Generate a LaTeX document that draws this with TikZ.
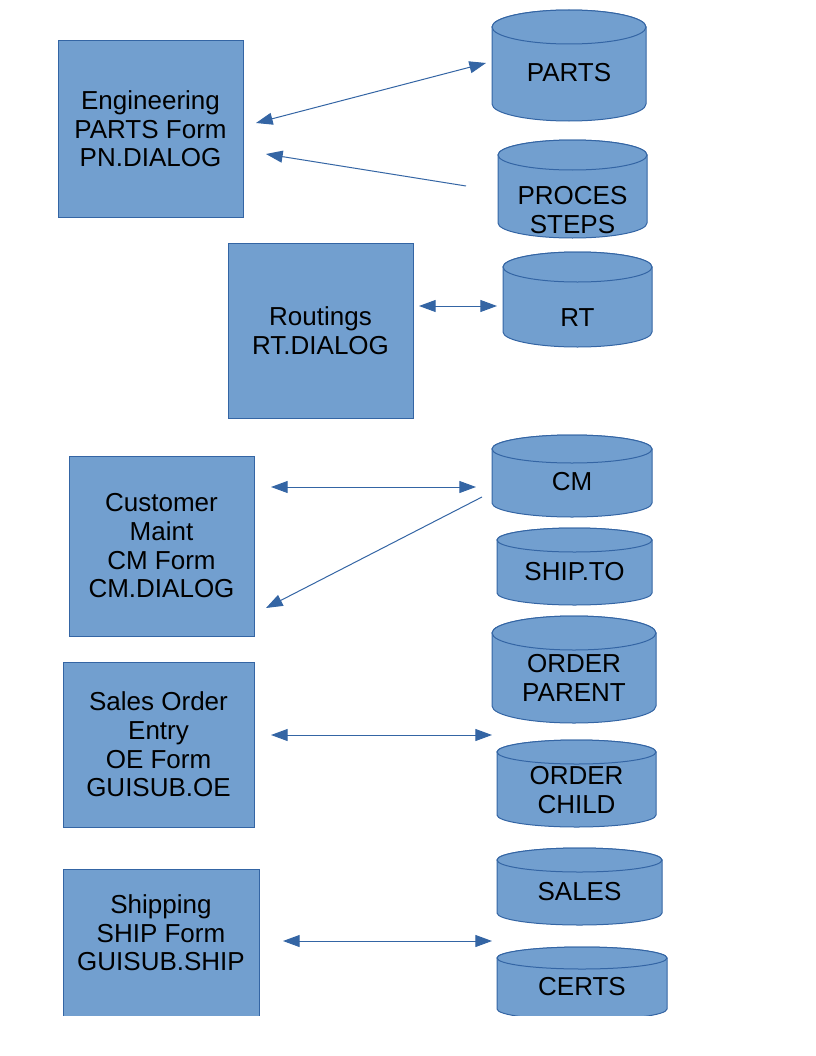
\documentclass[tikz,border=0pt]{standalone}
\usepackage{fontspec}
\setmainfont{Liberation Sans}
\usetikzlibrary{arrows.meta}
\definecolor{lo}{HTML}{3465A4}
\definecolor{lofill}{HTML}{729FCF}
\tikzset{
  txt/.style={font=\fontsize{19.5pt}{21.5pt}\selectfont, align=center, inner sep=0pt, text=black},
  box/.style={txt, draw=lo, fill=lofill, line width=0.75pt},
  dbst/.style={draw=lo, fill=lofill, line width=0.75pt},
  conn/.style={draw=lo, line width=0.75pt},
  >={Triangle[length=12.5pt,width=9pt]}
}
\newcommand{\dbcyl}[8]{%
  \pgfmathsetmacro{\cylcx}{(#2+#3)/2}%
  \pgfmathsetmacro{\cylrx}{(#3-#2)/2}%
  \filldraw[dbst] (#2,#4+#6) -- (#2,#5-#6) arc[start angle=180,end angle=0,x radius=\cylrx,y radius=#6]
     -- (#3,#4+#6) arc[start angle=0,end angle=-180,x radius=\cylrx,y radius=#6] -- cycle;
  \draw[dbst] (\cylcx,#4+#6) ellipse[x radius=\cylrx,y radius=#6];
  \node[txt] (#1) at (\cylcx,#7) {#8};%
}
\begin{document}
\begin{tikzpicture}[x=0.75pt,y=-0.75pt]
\useasboundingbox (0,0) rectangle (816,1056);
\begin{scope}
\clip (0,0) rectangle (816,1015);
% boxes
\node[box, minimum width=138.75pt, minimum height=132pt] (eng) at (150.5,129) {Engineering\\PARTS Form\\PN.DIALOG};
\node[box, minimum width=138.75pt, minimum height=131.25pt] (rtd) at (320.5,330.5) {Routings\\RT.DIALOG};
\node[box, minimum width=138.75pt, minimum height=135pt] (cmd) at (161.5,546) {Customer\\Maint\\CM Form\\CM.DIALOG};
\node[box, minimum width=143.25pt, minimum height=123.75pt] (oed) at (158.5,744.5) {Sales Order\\Entry\\OE Form\\GUISUB.OE};
\node[box, minimum width=147pt, minimum height=121.5pt] (shipbox) at (161,950) {};
\node[txt] (shipd) at (161,933) {Shipping\\SHIP Form\\GUISUB.SHIP};
% databases
\dbcyl{parts}{492}{646}{10}{121}{17}{73}{PARTS}
\dbcyl{proc}{498}{647}{140}{238}{15}{210}{PROCES\\STEPS}
\dbcyl{rt}{503}{652}{252}{347}{15}{318}{RT}
\dbcyl{cm}{492}{652}{435}{517}{14}{482}{CM}
\dbcyl{shipto}{497}{652}{528}{605}{12}{572}{SHIP.TO}
\dbcyl{ordp}{492}{656}{616}{723}{17}{678}{ORDER\\PARENT}
\dbcyl{ordc}{497}{656}{740}{827}{12}{790}{ORDER\\CHILD}
\dbcyl{sales}{497}{662}{848}{925}{12}{892}{SALES}
\dbcyl{certs}{497}{667}{947}{1020}{11}{987}{CERTS}
\end{scope}
% connector end points
\coordinate (a1s) at (256,123); \coordinate (a1e) at (486,63);
\coordinate (a2s) at (466,186); \coordinate (a2e) at (266,154);
\coordinate (a3s) at (419,306); \coordinate (a3e) at (497,306);
\coordinate (a4s) at (271,487); \coordinate (a4e) at (476,487);
\coordinate (a5s) at (482,497); \coordinate (a5e) at (266,608);
\coordinate (a6s) at (271,735); \coordinate (a6e) at (492,735);
\coordinate (a7s) at (283,941); \coordinate (a7e) at (492,941);
\draw[conn,<->] (a1s) -- (a1e);
\draw[conn,->] (a2s) -- (a2e);
\draw[conn,<->] (a3s) -- (a3e);
\draw[conn,<->] (a4s) -- (a4e);
\draw[conn,->] (a5s) -- (a5e);
\draw[conn,<->] (a6s) -- (a6e);
\draw[conn,<->] (a7s) -- (a7e);
\end{tikzpicture}
\end{document}
